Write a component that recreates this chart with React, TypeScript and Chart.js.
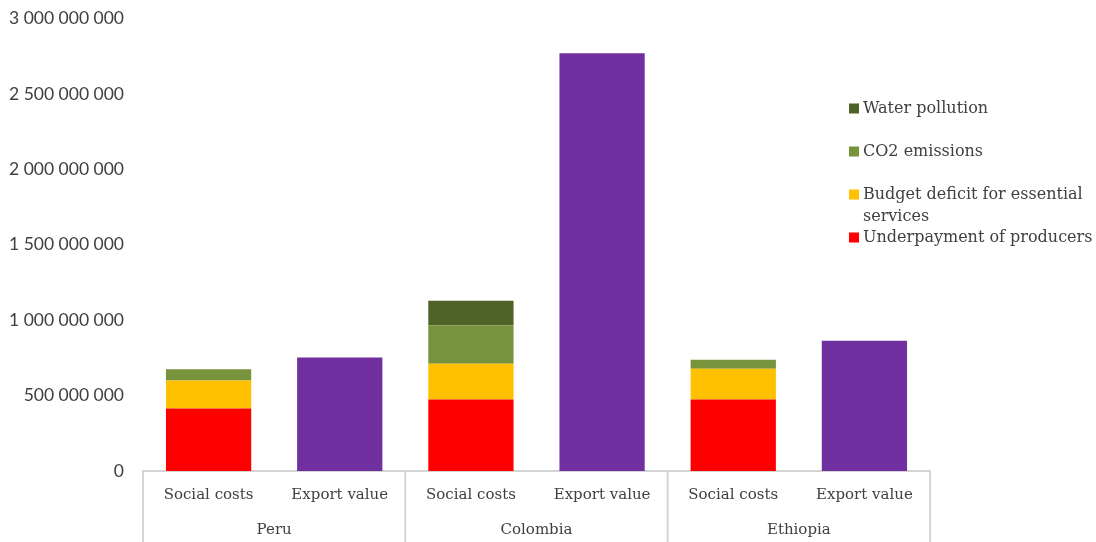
import React, { useEffect, useRef } from 'react';
import { Chart, registerables } from 'chart.js';

Chart.register(...registerables);

// ---- data ----
const countries = ['Peru', 'Colombia', 'Ethiopia'];
const subCategories = ['Social costs', 'Export value'];
const underpayment = [414e6, 474e6, 474e6];
const budgetDeficit = [186e6, 237e6, 204e6];
const co2Emissions = [75e6, 256e6, 59e6];
const waterPollution = [0, 162e6, 0];
const exportValue = [753e6, 2769e6, 863e6];
const yTicks = [0, 5e8, 1e9, 1.5e9, 2e9, 2.5e9, 3e9];
const seriesLabels = [
  'Underpayment of producers',
  'Budget deficit for essential services',
  'CO2 emissions',
  'Water pollution',
];
const exportLabel = 'Export value';

// ---- styles ----
const seriesColors = ['#FF0000', '#FFC000', '#77933C', '#4F6228'];
const exportColor = '#7030A0';
const textColor = '#404040';
const lineColor = '#d4d4d4';
const serif = 'DejaVu Serif';
const sans = 'Lato';

const socialValues = [underpayment, budgetDeficit, co2Emissions, waterPollution];

const fmt = (v: number) => String(Math.round(v)).replace(/\B(?=(\d{3})+(?!\d))/g, ' ');

const separatorPlugin = {
  id: 'groupSeparators',
  afterDraw(chart: any) {
    const { ctx } = chart;
    const x = chart.scales.x;
    const g = chart.scales.x2;
    const n = countries.length;
    ctx.save();
    ctx.strokeStyle = lineColor;
    ctx.lineWidth = 2;
    for (let i = 0; i <= n; i++) {
      const px = g.left + (g.width * i) / n;
      ctx.beginPath();
      ctx.moveTo(px, x.top);
      ctx.lineTo(px, chart.height);
      ctx.stroke();
    }
    ctx.restore();
  },
};

const legendPlugin = {
  id: 'sideLegend',
  afterDraw(chart: any) {
    const { ctx, chartArea } = chart;
    const items = chart.data.datasets.filter((d: any) => d.inLegend).slice().reverse();
    const x0 = chartArea.right - 81;
    const y0 = chartArea.top + 90;
    const step = 43;
    const lineH = 22;
    const box = 10;
    const maxW = chart.width - (x0 + box + 4) - 2;
    ctx.save();
    ctx.font = `16px "${serif}"`;
    ctx.textBaseline = 'middle';
    ctx.textAlign = 'left';
    items.forEach((d: any, i: number) => {
      const y = y0 + step * i;
      ctx.fillStyle = d.backgroundColor;
      ctx.fillRect(x0, y - box / 2, box, box);
      const words = String(d.label).split(' ');
      const lines: string[] = [];
      let cur = '';
      words.forEach((w) => {
        const t = cur ? cur + ' ' + w : w;
        if (ctx.measureText(t).width > maxW && cur) {
          lines.push(cur);
          cur = w;
        } else cur = t;
      });
      if (cur) lines.push(cur);
      ctx.fillStyle = textColor;
      lines.forEach((l, j) => ctx.fillText(l, x0 + box + 4, y + j * lineH));
    });
    ctx.restore();
  },
};

export default function App() {
  const ref = useRef<HTMLCanvasElement>(null);

  useEffect(() => {
    if (!ref.current) return;
    const labels = countries.flatMap(() => subCategories);
    const datasets: any[] = socialValues.map((vals, k) => ({
      label: seriesLabels[k],
      data: countries.flatMap((_, i) => [vals[i], null]),
      backgroundColor: seriesColors[k],
      xAxisID: 'x',
      inLegend: true,
    }));
    datasets.push({
      label: exportLabel,
      data: countries.flatMap((_, i) => [null, exportValue[i]]),
      backgroundColor: exportColor,
      xAxisID: 'x',
      inLegend: false,
    });

    const chart = new Chart(ref.current, {
      type: 'bar',
      data: { labels, datasets },
      options: {
        responsive: false,
        animation: false,
        layout: { padding: { left: 0, right: 166, top: 18.5, bottom: 0 } },
        datasets: { bar: { barPercentage: 0.65, categoryPercentage: 1 } },
        plugins: { legend: { display: false }, tooltip: { enabled: false } },
        scales: {
          x: {
            type: 'category',
            stacked: true,
            position: 'bottom',
            grid: { display: false, drawTicks: false },
            border: { display: true, color: lineColor, width: 2 },
            ticks: {
              font: { family: serif, size: 15 },
              color: textColor,
              padding: 15,
              maxRotation: 0,
              autoSkip: false,
            },
            afterFit: (s: any) => {
              s.height = 36;
            },
          },
          x2: {
            type: 'category',
            labels: countries,
            position: 'bottom',
            grid: { display: false, drawTicks: false },
            border: { display: false },
            ticks: {
              font: { family: serif, size: 15 },
              color: textColor,
              padding: 14,
              maxRotation: 0,
              autoSkip: false,
            },
            afterFit: (s: any) => {
              s.height = 35;
            },
          },
          y: {
            stacked: true,
            min: 0,
            max: yTicks[yTicks.length - 1],
            grid: { display: false, drawTicks: false },
            border: { display: false },
            afterBuildTicks: (s: any) => {
              s.ticks = yTicks.map((v) => ({ value: v }));
            },
            ticks: {
              font: { family: sans, size: 17.5 },
              color: textColor,
              padding: 19,
              callback: (v: any) => fmt(Number(v)),
            },
            afterFit: (s: any) => {
              s.width = 143;
              s.paddingTop = 0;
              s.paddingBottom = 0;
            },
          },
        },
      },
      plugins: [separatorPlugin, legendPlugin],
    } as any);
    return () => chart.destroy();
  }, []);

  return (
    <div style={{ position: 'absolute', left: 0, top: 0, width: 1096, height: 542, background: '#fff' }}>
      <canvas ref={ref} width={1096} height={542} />
    </div>
  );
}
